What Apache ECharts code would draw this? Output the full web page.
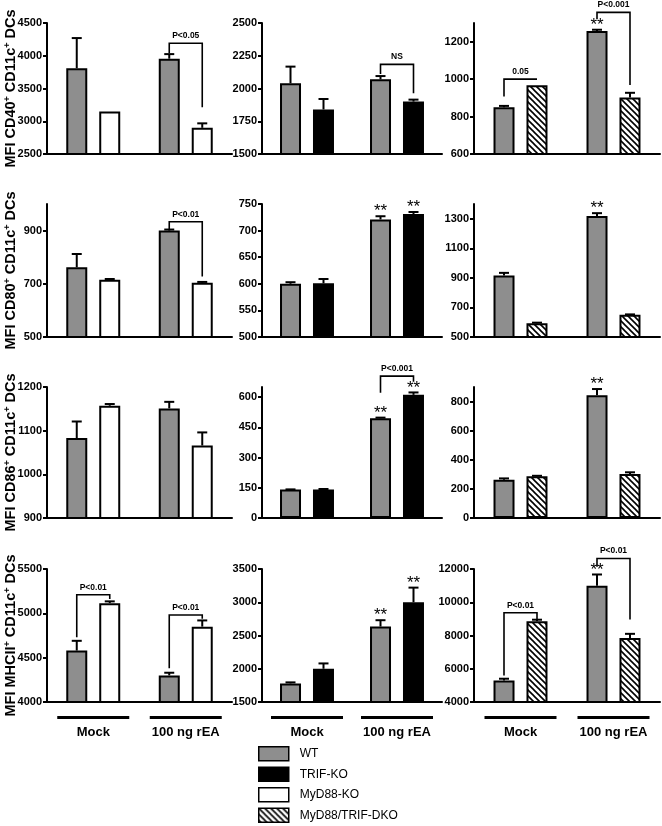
<!DOCTYPE html>
<html>
<head>
<meta charset="utf-8">
<script src="https://cdn.jsdelivr.net/npm/echarts@6/dist/echarts.min.js"></script>
<style>
  html, body { margin: 0; padding: 0; background: #fff; }
  #chart { width: 662px; height: 826px; }
</style>
</head>
<body>
<div id="chart"></div>
<script>
// groups on the x axis and the row markers
const groups = ['Mock', '100 ng rEA'];
const markers = ['CD40', 'CD80', 'CD86', 'MHCII'];
const otherNames = ['MyD88-KO', 'TRIF-KO', 'MyD88/TRIF-DKO'];

// panels are read row by row: CD40, CD80, CD86, MHCII x (MyD88, TRIF, DKO)
const wtMean = [
  [3810, 3955], [2040, 2070], [850, 1257],
  [762, 900], [600, 721], [916, 1318],
  [1083, 1151], [141, 495], [263, 843],
  [4580, 4300], [1780, 2635], [5300, 11000]
];
const wtErr = [
  [460, 70], [127, 25], [7, 7],
  [50, 4], [3, 6], [18, 20],
  [38, 15], [1, 3], [9, 43],
  [110, 30], [15, 95], [100, 670]
];
const koMean = [
  [3150, 2900], [1840, 1900], [968, 902],
  [715, 704], [601, 731], [593, 650],
  [1157, 1066], [142, 611], [287, 302],
  [5115, 4850], [2000, 3000], [8850, 7850]
];
const koErr = [
  [0, 68], [80, 15], [0, 25],
  [3, 3], [8, 4], [4, 3],
  [4, 30], [2, 12], [3, 12],
  [20, 70], [80, 220], [100, 250]
];
// ** marks: [WT mock, WT rEA, KO mock, KO rEA]
const stars = [
  [0, 0, 0, 0], [0, 0, 0, 0], [0, 1, 0, 0],
  [0, 0, 0, 0], [0, 1, 0, 1], [0, 1, 0, 0],
  [0, 0, 0, 0], [0, 1, 0, 1], [0, 1, 0, 0],
  [0, 0, 0, 0], [0, 1, 0, 1], [0, 1, 0, 0]
];
// brackets: [panel, group, top, left end, right end]
const brackets = [
  [0, 1, 4190, 4042, 3213],
  [1, 1, 2184, 2110, 1963],
  [2, 0, 1000, 907, 1000],
  [2, 1, 1357, 1321, 969],
  [3, 1, 933, 904, 727],
  [7, 1, 704, 621, 676],
  [9, 0, 5210, 4730, 5161],
  [9, 1, 4981, 4380, 4940],
  [11, 0, 9367, 5600, 8950],
  [11, 1, 12630, 12140, 8957]
];
const bracketLabels = ['P<0.05', 'NS', '0.05', 'P<0.001', 'P<0.01', 'P<0.001', 'P<0.01', 'P<0.01', 'P<0.01', 'P<0.01'];

const yTicks = [
  [2500, 3000, 3500, 4000, 4500], [1500, 1750, 2000, 2250, 2500], [600, 800, 1000, 1200],
  [500, 700, 900], [500, 550, 600, 650, 700, 750], [500, 700, 900, 1100, 1300],
  [900, 1000, 1100, 1200], [0, 150, 300, 450, 600], [0, 200, 400, 600, 800],
  [4000, 4500, 5000, 5500], [1500, 2000, 2500, 3000, 3500], [4000, 6000, 8000, 10000, 12000]
];
const yMax = [4500, 2500, 1300, 1000, 750, 1400, 1200, 650, 900, 5500, 3500, 12000];

const FONT = '"Liberation Sans", Arial, sans-serif';
const HALF = 16.5;
const lefts = [47, 262, 474];
const rights = [430, 220, 2];
const tops = [23, 204, 387, 569];
const heights = [131, 133, 131, 133];

// diagonal hatch for the double knockout
const hatch = document.createElement('canvas');
hatch.width = 6; hatch.height = 6;
const hc = hatch.getContext('2d');
hc.fillStyle = '#fff';
hc.fillRect(0, 0, 6, 6);
hc.strokeStyle = '#000';
hc.lineWidth = 1.6;
[-6, 0, 6].forEach(k => {
  hc.beginPath();
  hc.moveTo(-1, k - 1);
  hc.lineTo(7, k + 7);
  hc.stroke();
});
const koColors = ['#ffffff', '#000000', { image: hatch, repeat: 'repeat' }];

const grids = [], xAxes = [], yAxes = [], series = [];

for (let p = 0; p < 12; p++) {
  const row = Math.floor(p / 3), col = p % 3;
  grids.push({ left: lefts[col], right: rights[col], top: tops[row], height: heights[row], outerBoundsMode: 'none' });

  const bottom = row === 3;
  xAxes.push({
    type: 'category', gridIndex: p, data: groups,
    axisLine: { onZero: false, lineStyle: { color: '#000', width: 2 } },
    axisTick: { show: false },
    axisLabel: {
      show: bottom, margin: 14, interval: 0,
      formatter: v => '{ln|}\n{t|' + v + '}',
      rich: {
        ln: { width: 72, height: 3, lineHeight: 3, backgroundColor: '#000' },
        t: { fontSize: 13, fontWeight: 'bold', fontFamily: FONT, color: '#000', lineHeight: 20, padding: [6, 0, 0, 0] }
      }
    }
  });

  const y = {
    type: 'value', gridIndex: p, min: yTicks[p][0], max: yMax[p],
    splitLine: { show: false },
    axisLine: { show: true, lineStyle: { color: '#000', width: 2 } },
    axisTick: { show: true, length: 4, lineStyle: { color: '#000', width: 2 }, customValues: yTicks[p] },
    axisLabel: {
      margin: 5, fontSize: 11, fontWeight: 'bold', fontFamily: FONT, color: '#000',
      customValues: yTicks[p], formatter: v => String(v)
    }
  };
  if (col === 0) {
    y.name = '{t|MFI ' + markers[row] + '}{s|+}{t| CD11c}{s|+}{t| DCs}';
    y.nameLocation = 'middle';
    y.nameRotate = 90;
    y.nameGap = 28;
    y.nameMoveOverlap = false;
    y.nameTextStyle = {
      rich: {
        t: { fontSize: 14.5, fontWeight: 'bold', fontFamily: FONT, color: '#000', lineHeight: 16 },
        s: { fontSize: 9, fontWeight: 'bold', fontFamily: FONT, color: '#000', lineHeight: 16, verticalAlign: 'top', padding: [0, 0, 6, 0] }
      }
    };
  }
  yAxes.push(y);

  const barBase = { type: 'bar', xAxisIndex: p, yAxisIndex: p, barWidth: 21, barGap: '57%', animation: false };
  series.push(Object.assign({}, barBase, {
    name: 'WT', data: wtMean[p],
    itemStyle: { color: '#8e8e8e', borderColor: '#000', borderWidth: 2 }
  }));
  series.push(Object.assign({}, barBase, {
    name: otherNames[col], data: koMean[p],
    itemStyle: { color: koColors[col], borderColor: '#000', borderWidth: 2 }
  }));

  // error bars and ** marks
  const eb = [];
  for (let c = 0; c < 2; c++) {
    eb.push([c, wtMean[p][c], wtErr[p][c], -1, stars[p][c]]);
    eb.push([c, koMean[p][c], koErr[p][c], 1, stars[p][2 + c]]);
  }
  series.push({
    type: 'custom', xAxisIndex: p, yAxisIndex: p, clip: false, silent: true, z: 5,
    encode: { x: 0, y: 1 }, data: eb, animation: false,
    renderItem: (params, api) => {
      const base = api.coord([api.value(0), api.value(1)]);
      const top = api.coord([api.value(0), api.value(1) + api.value(2)]);
      const x = base[0] + api.value(3) * HALF;
      const kids = [];
      if (api.value(2) > 0) {
        kids.push({ type: 'line', shape: { x1: x, y1: base[1], x2: x, y2: top[1] }, style: { stroke: '#000', lineWidth: 2 } });
        kids.push({ type: 'line', shape: { x1: x - 5, y1: top[1], x2: x + 5, y2: top[1] }, style: { stroke: '#000', lineWidth: 2 } });
      }
      if (api.value(4)) {
        kids.push({ type: 'text', x: x, y: top[1] + 4, style: { text: '**', fontSize: 17, fontFamily: FONT, fill: '#000', align: 'center', verticalAlign: 'bottom' } });
      }
      return { type: 'group', children: kids };
    }
  });

  // significance brackets
  const bl = brackets.map((b, i) => [b[1], b[2], b[3], b[4], i]).filter((b, i) => brackets[i][0] === p);
  if (bl.length) {
    series.push({
      type: 'custom', xAxisIndex: p, yAxisIndex: p, clip: false, silent: true, z: 6,
      encode: { x: 0, y: 1 }, data: bl, animation: false,
      renderItem: (params, api) => {
        const t = api.coord([api.value(0), api.value(1)]);
        const l = api.coord([api.value(0), api.value(2)]);
        const r = api.coord([api.value(0), api.value(3)]);
        const xl = t[0] - HALF, xr = t[0] + HALF;
        return {
          type: 'group', children: [
            { type: 'polyline', shape: { points: [[xl, l[1]], [xl, t[1]], [xr, t[1]], [xr, r[1]]] }, style: { stroke: '#000', lineWidth: 1.6, fill: null } },
            { type: 'text', x: t[0], y: t[1] - 3, style: { text: bracketLabels[api.value(4)], fontSize: 8.5, fontWeight: 'bold', fontFamily: FONT, fill: '#000', align: 'center', verticalAlign: 'bottom' } }
          ]
        };
      }
    });
  }
}

const chart = echarts.init(document.getElementById('chart'), null, { renderer: 'canvas' });
chart.setOption({
  backgroundColor: '#fff',
  animation: false,
  grid: grids,
  xAxis: xAxes,
  yAxis: yAxes,
  legend: {
    data: ['WT', 'TRIF-KO', 'MyD88-KO', 'MyD88/TRIF-DKO'],
    orient: 'vertical', left: 258, top: 746, padding: 0, height: 80,
    itemWidth: 30, itemHeight: 14, itemGap: 5,
    icon: 'rect', selectedMode: false,
    itemStyle: { borderColor: '#000', borderWidth: 1.5 },
    textStyle: { fontSize: 12, fontFamily: FONT, color: '#000', padding: [0, 0, 0, 6] }
  },
  series: series
});
</script>
</body>
</html>
